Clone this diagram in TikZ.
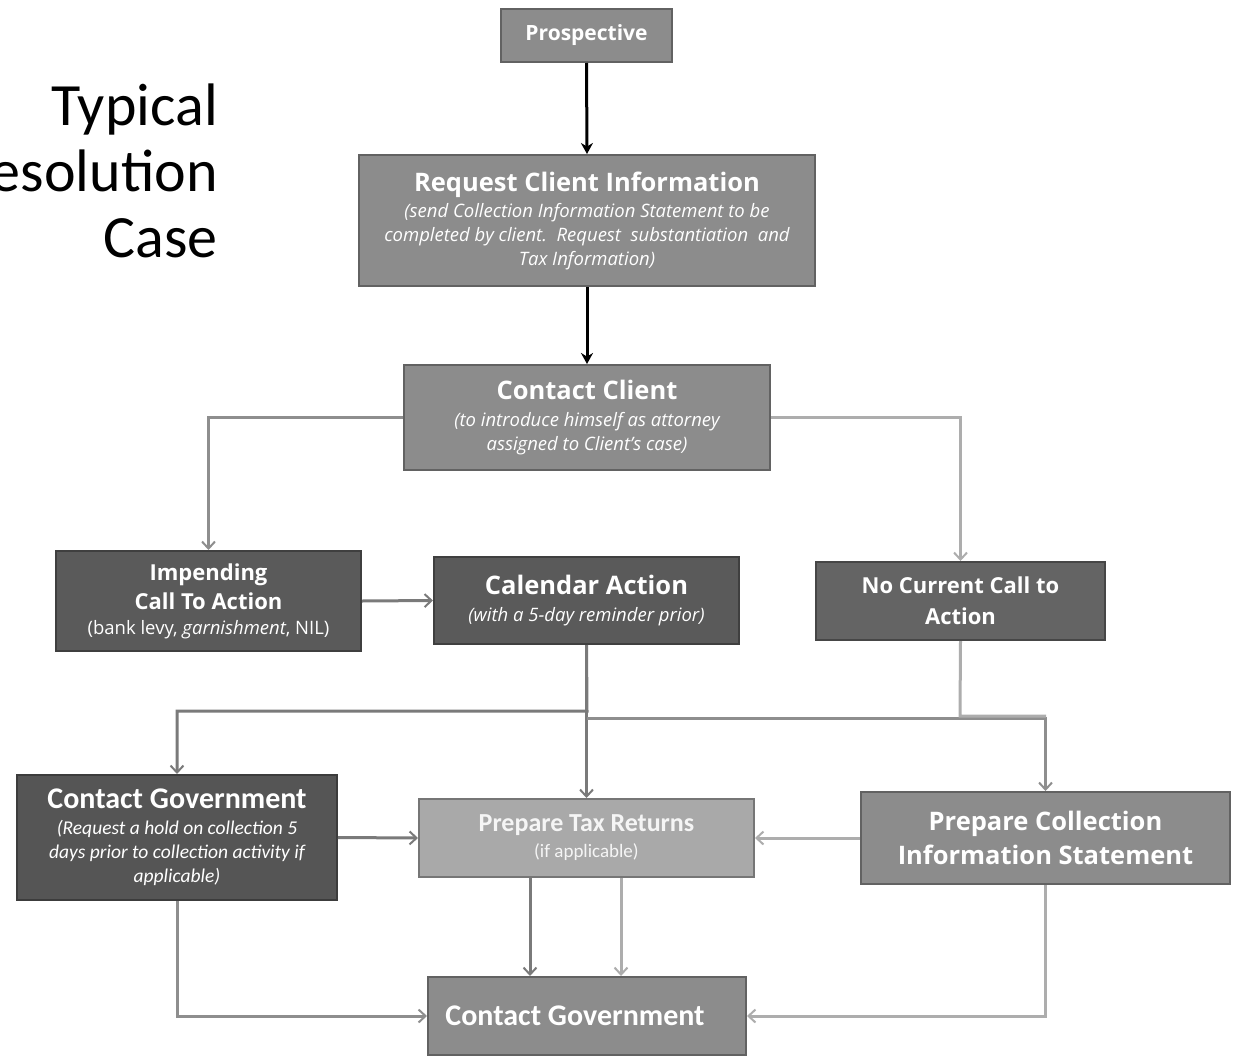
\documentclass[tikz,border=0pt]{standalone}
\usepackage{fontspec}
\setmainfont{Open Sans}
\newfontfamily\calib{Carlito}
\usetikzlibrary{arrows.meta}
\definecolor{bxmid}{HTML}{8C8C8C}
\definecolor{bxdark}{HTML}{5A5A5A}
\definecolor{bxlight}{HTML}{A9A9A9}
\definecolor{lndark}{HTML}{7A7A7A}
\definecolor{lnmid}{HTML}{8E8E8E}
\definecolor{lnlight}{HTML}{ADADAD}
\newcommand{\ttlf}{\bfseries\fontsize{25.5}{30}\selectfont}
\newcommand{\subf}{\mdseries\itshape\fontsize{18.5}{24}\selectfont}
\newcommand{\bxt}[2]{\parbox{#1}{\centering #2\par}}
\tikzset{
  box/.style={draw=#1!70!black, line width=2pt, fill=#1, text=white, align=center, inner sep=2pt},
  conn/.style={line width=3pt, draw=#1, -{Straight Barb[length=7pt,width=13pt,line width=2pt]}},
  blk/.style={line width=3pt, draw=black, -{Stealth[length=11pt,width=12pt]}}
}
\begin{document}
\begin{tikzpicture}[x=1pt,y=-1pt]
\useasboundingbox (0,0) rectangle (1234,1057);
\fill[white] (0,0) rectangle (1234,1057);
% title
\node[anchor=north east, align=right, font=\calib\fontsize{60}{66}\selectfont, inner sep=0pt, text=black] (title) at (218,84) {Typical\\Resolution\\Case};
% boxes
\node[box=bxmid, minimum width=171pt, minimum height=53pt, font=\bfseries\fontsize{21}{24}\selectfont] (pros) at (586.5,35.5) {Prospective};
\node[box=bxmid, minimum width=456pt, minimum height=131pt] (req) at (587,220.5)
  {\bxt{450pt}{\ttlf Request Client Information\par\vspace{2pt}
   \subf (send Collection Information Statement to be\\ completed by client.\ \ Request\ \ substantiation\ \ and\\ Tax Information)}};
\node[box=bxmid, minimum width=366pt, minimum height=105pt] (cc) at (587,417.5)
  {\bxt{360pt}{\ttlf Contact Client\par\vspace{3pt}
   \subf (to introduce himself as attorney\\ assigned to Client's case)}};
\node[box=bxdark, minimum width=305pt, minimum height=100pt] (imp) at (208.5,601)
  {\bxt{300pt}{\bfseries\fontsize{22}{29}\selectfont Impending\\ Call To Action\par\vspace{1pt}
   \mdseries\fontsize{18.5}{24}\selectfont (bank levy, \textit{garnishment}, NIL)}};
\node[box=bxdark, minimum width=305pt, minimum height=87pt] (cal) at (586.5,600.5)
  {\bxt{300pt}{\ttlf Calendar Action\par\vspace{3pt}
   \subf (with a 5-day reminder prior)}};
\node[box=bxdark!80!bxmid, minimum width=289pt, minimum height=78pt] (nc) at (960.5,601)
  {\bxt{285pt}{\bfseries\fontsize{22}{31}\selectfont No Current Call to\\ Action}};
\node[box=bxdark!95!black, minimum width=320pt, minimum height=125pt] (cg) at (177,837.5)
  {\bxt{316pt}{\calib\bfseries\fontsize{30}{30}\selectfont Contact Government\par\vspace{2pt}
   \mdseries\itshape\fontsize{19.5}{24}\selectfont (Request a hold on collection 5\\ days prior to collection activity if\\ applicable)}};
\node[box=bxlight, minimum width=335pt, minimum height=78pt, text=white!96!black] (pt) at (586.5,838)
  {\bxt{330pt}{\calib\bfseries\fontsize{26}{28}\selectfont Prepare Tax Returns\par\vspace{4pt}
   \mdseries\fontsize{19}{22}\selectfont (if applicable)}};
\node[box=bxmid, minimum width=369pt, minimum height=92pt] (pc) at (1045.5,838)
  {\bxt{365pt}{\bfseries\fontsize{25.5}{34}\selectfont Prepare Collection\\ Information Statement}};
\node[box=bxmid, minimum width=318pt, minimum height=78pt] (cg2) at (587,1016)
  {\bxt{310pt}{\calib\bfseries\fontsize{30}{32}\selectfont\hspace*{-24pt}Contact Government}};
% junction coordinates
\coordinate (j1) at (587,711);
\coordinate (j2) at (587,718);
\coordinate (j3) at (960,716);
\coordinate (j4) at (1046,716);
% connectors
\draw[blk] (pros.south) -- (req.north);
\draw[blk] (req.south) -- (cc.north);
\draw[conn=lnmid] (cc.west) -| (imp.north);
\draw[conn=lnlight] (cc.east) -| (nc.north);
\draw[conn=lndark] (imp.east) -- (cal.west);
\draw[conn=lndark] (cal.south) -- (j1) -| (cg.north);
\draw[conn=lndark] (cal.south) -- (pt.north);
\draw[conn=lnmid] (j2) -| (pc.north);
\draw[line width=3pt, draw=lnlight] (nc.south) -- (j3) -- (j4);
\draw[conn=lndark] (cg.east) -- (pt.west);
\draw[conn=lnlight] (pc.west) -- (pt.east);
\draw[conn=lndark] ([xshift=-56.5pt]pt.south) -- ([xshift=-56.5pt]pt.south |- cg2.north);
\draw[conn=lnlight] ([xshift=34.5pt]pt.south) -- ([xshift=34.5pt]pt.south |- cg2.north);
\draw[conn=lnmid] (cg.south) |- (cg2.west);
\draw[conn=lnlight] (pc.south) |- (cg2.east);
\end{tikzpicture}
\end{document}
